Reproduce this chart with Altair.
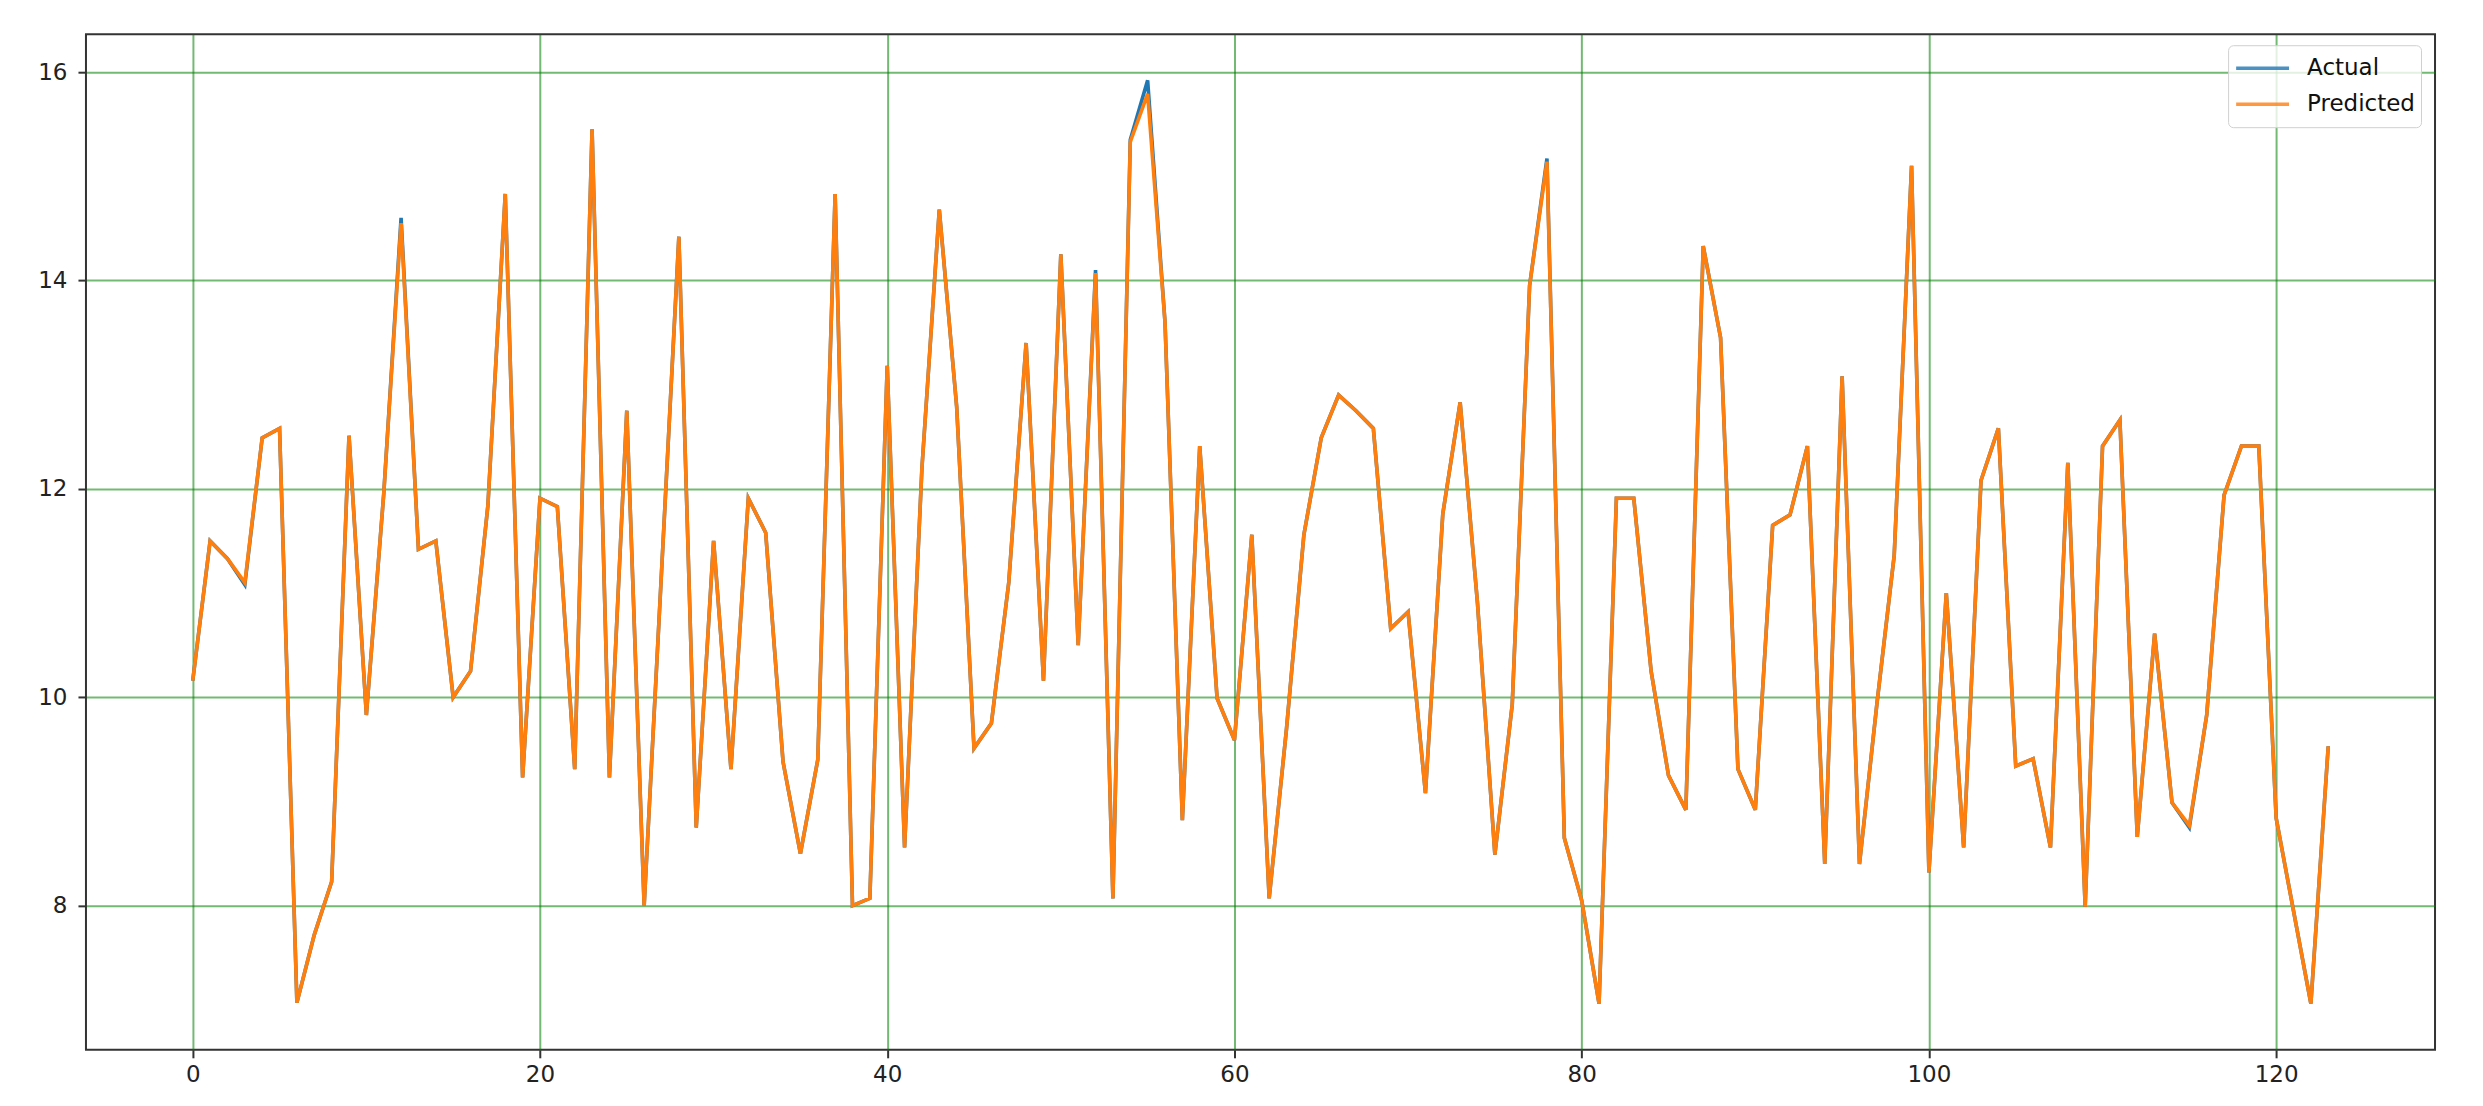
import altair as alt
import pandas as pd

index = list(range(124))

actual = [
    10.16, 11.50, 11.33, 11.08, 12.49, 12.58, 7.07, 7.72, 8.23, 12.51,
    9.83, 11.95, 14.60, 11.42, 11.50, 10.00, 10.25, 11.84, 14.83, 9.23,
    11.91, 11.83, 9.31, 15.45, 9.23, 12.75, 8.00, 11.20, 14.42, 8.75,
    11.50, 9.31, 11.91, 11.58, 9.38, 8.50, 9.40, 14.83, 8.00, 8.07,
    13.18, 8.56, 12.20, 14.68, 12.79, 9.51, 9.75, 11.10, 13.40, 10.16,
    14.25, 10.50, 14.10, 8.07, 15.35, 15.92, 13.60, 8.82, 12.41, 9.99,
    9.59, 11.56, 8.07, 9.70, 11.56, 12.49, 12.90, 12.75, 12.58, 10.66,
    10.82, 9.08, 11.76, 12.83, 10.90, 8.49, 9.93, 13.95, 15.17, 8.65,
    8.05, 7.06, 11.91, 11.91, 10.25, 9.25, 8.92, 14.33, 13.45, 9.31,
    8.92, 11.65, 11.75, 12.41, 8.40, 13.08, 8.40, 9.93, 11.36, 15.10,
    8.32, 11.00, 8.56, 12.08, 12.58, 9.34, 9.41, 8.56, 12.25, 7.99,
    12.41, 12.66, 8.66, 10.61, 8.99, 8.75, 9.83, 11.94, 12.41, 12.41,
    8.84, 7.95, 7.06, 9.53,
]

predicted = [
    10.16, 11.50, 11.33, 11.10, 12.49, 12.58, 7.07, 7.72, 8.23, 12.51,
    9.83, 11.95, 14.55, 11.42, 11.50, 10.00, 10.25, 11.84, 14.83, 9.23,
    11.91, 11.83, 9.31, 15.45, 9.23, 12.75, 8.00, 11.20, 14.42, 8.75,
    11.50, 9.31, 11.91, 11.58, 9.38, 8.50, 9.40, 14.83, 8.00, 8.07,
    13.18, 8.56, 12.20, 14.68, 12.79, 9.51, 9.75, 11.10, 13.40, 10.16,
    14.25, 10.50, 14.07, 8.07, 15.33, 15.79, 13.60, 8.82, 12.41, 9.99,
    9.59, 11.56, 8.07, 9.70, 11.56, 12.49, 12.90, 12.75, 12.58, 10.66,
    10.82, 9.08, 11.76, 12.83, 10.90, 8.49, 9.93, 13.95, 15.14, 8.65,
    8.05, 7.06, 11.91, 11.91, 10.25, 9.25, 8.92, 14.33, 13.45, 9.31,
    8.92, 11.65, 11.75, 12.41, 8.40, 13.08, 8.40, 9.93, 11.36, 15.10,
    8.32, 11.00, 8.56, 12.08, 12.58, 9.34, 9.41, 8.56, 12.25, 7.99,
    12.41, 12.66, 8.66, 10.61, 8.99, 8.77, 9.83, 11.94, 12.41, 12.41,
    8.84, 7.95, 7.06, 9.53,
]

series_names = ["Actual", "Predicted"]
series_colors = ["#1f77b4", "#ff7f0e"]
x_ticks = [0, 20, 40, 60, 80, 100, 120]
y_ticks = [8, 10, 12, 14, 16]

rows = []
for name, vals in zip(series_names, [actual, predicted]):
    for i, v in zip(index, vals):
        rows.append({"idx": i, "value": v, "series": name, "order": series_names.index(name)})
df = pd.DataFrame(rows)

font = "DejaVu Sans"

chart = (
    alt.Chart(df)
    .mark_line(strokeWidth=3.6, strokeJoin="miter", strokeCap="butt")
    .encode(
        x=alt.X(
            "idx:Q",
            scale=alt.Scale(domain=[-6.15, 129.15], nice=False, zero=False),
            axis=alt.Axis(values=x_ticks, title=None, labelPadding=6),
        ),
        y=alt.Y(
            "value:Q",
            scale=alt.Scale(domain=[6.617, 16.363], nice=False, zero=False),
            axis=alt.Axis(values=y_ticks, title=None, labelPadding=11),
        ),
        color=alt.Color(
            "series:N",
            scale=alt.Scale(domain=series_names, range=series_colors),
            legend=alt.Legend(
                title=None,
                orient="none",
                legendX=2143,
                legendY=11,
                symbolType="stroke",
                symbolStrokeWidth=3.6,
                symbolSize=2800,
                symbolOpacity=0.8,
                clipHeight=34,
                labelFont=font,
                labelFontSize=23,
                labelColor="#111",
                labelOffset=16,
                fillColor="rgba(255,255,255,0.8)",
                strokeColor="#d0d0d0",
                cornerRadius=5,
                padding=6,
                rowPadding=2,
            ),
        ),
        order=alt.Order("order:Q"),
        detail="series:N",
    )
    .properties(
        width=2350,
        height=1016,
        autosize=alt.AutoSizeParams(type="none"),
        padding={"left": 78, "top": 26, "right": 40, "bottom": 60},
    )
    .configure_view(stroke="#333", strokeWidth=2)
    .configure_axis(
        domain=False,
        grid=True,
        gridColor="#008000",
        gridOpacity=0.55,
        gridWidth=2,
        ticks=True,
        tickColor="#333",
        tickSize=8,
        tickWidth=2,
        labelFont=font,
        labelFontSize=23,
        labelColor="#222",
    )
)

chart.save("out.html", embed_options={"renderer": "svg", "actions": False})
